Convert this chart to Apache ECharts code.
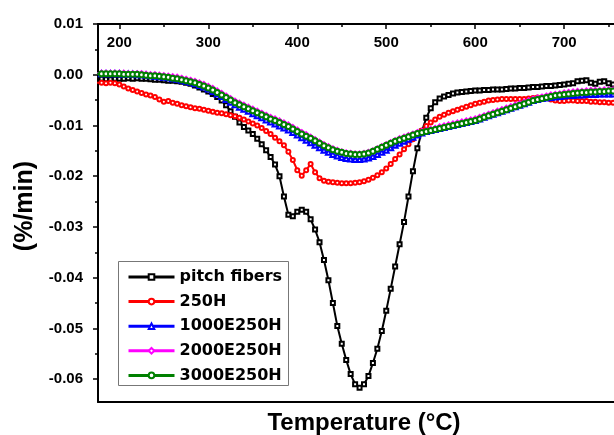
<!DOCTYPE html>
<html>
<head>
<meta charset="utf-8">
<script src="https://cdn.jsdelivr.net/npm/echarts@6/dist/echarts.min.js"></script>
<style>html,body{margin:0;padding:0;background:#fff;}#c{width:614px;height:435px;}</style>
</head>
<body>
<div id="c"></div>
<script>
var temps = [175,180,185,190,195,200,205,210,215,220,
225,230,235,240,245,250,255,260,265,270,
275,280,285,290,295,300,305,310,315,320,
325,330,335,340,345,350,355,360,365,370,
375,380,385,390,395,400,405,410,415,420,
425,430,435,440,445,450,455,460,465,470,
475,480,485,490,495,500,505,510,515,520,
525,530,535,540,545,550,555,560,565,570,
575,580,585,590,595,600,605,610,615,620,
625,630,635,640,645,650,655,660,665,670,
675,680,685,690,695,700,705,710,715,720,
725,730,735,740,745,750,755];

var pitchFibers = [-0.0008,-0.0008,-0.0009,-0.0009,-0.0008,-0.0008,-0.0008,-0.0007,-0.0008,-0.0007,
-0.0008,-0.0008,-0.0009,-0.0010,-0.0010,-0.0011,-0.0012,-0.0012,-0.0013,-0.0014,
-0.0016,-0.0018,-0.0021,-0.0025,-0.0029,-0.0033,-0.0038,-0.0044,-0.0051,-0.0060,
-0.0072,-0.0083,-0.0094,-0.0103,-0.0110,-0.0117,-0.0126,-0.0137,-0.0149,-0.0162,
-0.0177,-0.0200,-0.0240,-0.0276,-0.0279,-0.0270,-0.0266,-0.0270,-0.0285,-0.0305,
-0.0330,-0.0365,-0.0405,-0.0450,-0.0495,-0.0530,-0.0562,-0.0590,-0.0610,-0.0617,
-0.0610,-0.0594,-0.0568,-0.0540,-0.0505,-0.0465,-0.0422,-0.0378,-0.0334,-0.0290,
-0.0240,-0.0190,-0.0145,-0.0112,-0.0085,-0.0066,-0.0054,-0.0047,-0.0043,-0.0040,
-0.0037,-0.0035,-0.0034,-0.0033,-0.0032,-0.0031,-0.0031,-0.0030,-0.0030,-0.0029,
-0.0029,-0.0029,-0.0028,-0.0027,-0.0027,-0.0026,-0.0026,-0.0025,-0.0024,-0.0024,
-0.0023,-0.0022,-0.0022,-0.0021,-0.0020,-0.0019,-0.0018,-0.0017,-0.0013,-0.0012,
-0.0011,-0.0016,-0.0018,-0.0014,-0.0013,-0.0017,-0.0019];

var s250H = [-0.0016,-0.0016,-0.0017,-0.0016,-0.0017,-0.0019,-0.0023,-0.0027,-0.0030,-0.0033,
-0.0036,-0.0039,-0.0041,-0.0044,-0.0049,-0.0053,-0.0052,-0.0055,-0.0057,-0.0060,
-0.0062,-0.0064,-0.0066,-0.0067,-0.0069,-0.0071,-0.0073,-0.0075,-0.0076,-0.0078,
-0.0080,-0.0082,-0.0085,-0.0088,-0.0092,-0.0096,-0.0100,-0.0105,-0.0111,-0.0117,
-0.0124,-0.0131,-0.0139,-0.0152,-0.0168,-0.0188,-0.0199,-0.0188,-0.0176,-0.0192,
-0.0204,-0.0209,-0.0211,-0.0212,-0.0213,-0.0214,-0.0214,-0.0214,-0.0213,-0.0212,
-0.0210,-0.0207,-0.0203,-0.0198,-0.0192,-0.0185,-0.0176,-0.0166,-0.0157,-0.0147,
-0.0137,-0.0127,-0.0118,-0.0110,-0.0101,-0.0094,-0.0088,-0.0083,-0.0079,-0.0075,
-0.0072,-0.0069,-0.0066,-0.0063,-0.0060,-0.0057,-0.0055,-0.0053,-0.0051,-0.0050,
-0.0049,-0.0048,-0.0048,-0.0048,-0.0048,-0.0048,-0.0048,-0.0047,-0.0046,-0.0045,
-0.0045,-0.0046,-0.0049,-0.0051,-0.0052,-0.0052,-0.0051,-0.0051,-0.0052,-0.0052,
-0.0052,-0.0053,-0.0053,-0.0054,-0.0054,-0.0055,-0.0055];

var s1000E250H = [0.0002,0.0002,0.0002,0.0002,0.0002,0.0002,0.0001,0.0001,0.0001,0.0000,
0.0000,-0.0001,-0.0002,-0.0003,-0.0004,-0.0005,-0.0006,-0.0008,-0.0009,-0.0011,
-0.0013,-0.0015,-0.0018,-0.0021,-0.0024,-0.0028,-0.0033,-0.0038,-0.0043,-0.0049,
-0.0054,-0.0059,-0.0064,-0.0068,-0.0072,-0.0077,-0.0081,-0.0085,-0.0089,-0.0093,
-0.0097,-0.0101,-0.0105,-0.0109,-0.0114,-0.0119,-0.0124,-0.0129,-0.0134,-0.0139,
-0.0144,-0.0149,-0.0153,-0.0157,-0.0160,-0.0163,-0.0165,-0.0166,-0.0167,-0.0167,
-0.0166,-0.0164,-0.0161,-0.0157,-0.0153,-0.0149,-0.0144,-0.0139,-0.0135,-0.0131,
-0.0127,-0.0123,-0.0119,-0.0115,-0.0112,-0.0110,-0.0108,-0.0106,-0.0104,-0.0102,
-0.0100,-0.0098,-0.0096,-0.0094,-0.0092,-0.0090,-0.0087,-0.0084,-0.0081,-0.0078,
-0.0075,-0.0072,-0.0069,-0.0066,-0.0063,-0.0060,-0.0057,-0.0054,-0.0051,-0.0049,
-0.0047,-0.0046,-0.0045,-0.0044,-0.0043,-0.0042,-0.0041,-0.0041,-0.0040,-0.0040,
-0.0039,-0.0039,-0.0039,-0.0038,-0.0038,-0.0038,-0.0038];

var s2000E250H = [0.0003,0.0003,0.0003,0.0003,0.0003,0.0003,0.0003,0.0002,0.0002,0.0002,
0.0002,0.0001,0.0000,0.0000,-0.0001,-0.0002,-0.0003,-0.0004,-0.0005,-0.0007,
-0.0009,-0.0011,-0.0013,-0.0016,-0.0019,-0.0023,-0.0027,-0.0032,-0.0037,-0.0042,
-0.0047,-0.0052,-0.0056,-0.0060,-0.0064,-0.0068,-0.0072,-0.0076,-0.0080,-0.0084,
-0.0087,-0.0091,-0.0095,-0.0099,-0.0104,-0.0109,-0.0114,-0.0118,-0.0123,-0.0128,
-0.0133,-0.0138,-0.0142,-0.0146,-0.0149,-0.0152,-0.0154,-0.0155,-0.0156,-0.0156,
-0.0155,-0.0153,-0.0150,-0.0146,-0.0142,-0.0138,-0.0134,-0.0130,-0.0126,-0.0123,
-0.0120,-0.0117,-0.0114,-0.0112,-0.0110,-0.0108,-0.0106,-0.0103,-0.0101,-0.0099,
-0.0097,-0.0095,-0.0093,-0.0091,-0.0089,-0.0087,-0.0084,-0.0081,-0.0078,-0.0075,
-0.0072,-0.0069,-0.0066,-0.0063,-0.0060,-0.0057,-0.0054,-0.0051,-0.0048,-0.0046,
-0.0044,-0.0042,-0.0040,-0.0039,-0.0038,-0.0036,-0.0035,-0.0034,-0.0033,-0.0033,
-0.0032,-0.0031,-0.0031,-0.0031,-0.0030,-0.0030,-0.0030];

var s3000E250H = [0.0002,0.0002,0.0002,0.0002,0.0002,0.0002,0.0001,0.0001,0.0001,0.0001,
0.0000,-0.0001,-0.0002,-0.0002,-0.0003,-0.0004,-0.0005,-0.0007,-0.0008,-0.0010,
-0.0012,-0.0014,-0.0016,-0.0019,-0.0022,-0.0026,-0.0030,-0.0035,-0.0040,-0.0045,
-0.0050,-0.0055,-0.0059,-0.0063,-0.0067,-0.0071,-0.0075,-0.0079,-0.0083,-0.0087,
-0.0090,-0.0094,-0.0098,-0.0102,-0.0107,-0.0112,-0.0117,-0.0121,-0.0125,-0.0130,
-0.0135,-0.0140,-0.0144,-0.0148,-0.0151,-0.0153,-0.0155,-0.0156,-0.0157,-0.0157,
-0.0156,-0.0154,-0.0151,-0.0147,-0.0143,-0.0139,-0.0135,-0.0131,-0.0128,-0.0125,
-0.0122,-0.0119,-0.0116,-0.0114,-0.0112,-0.0110,-0.0108,-0.0106,-0.0104,-0.0102,
-0.0100,-0.0098,-0.0096,-0.0094,-0.0092,-0.0090,-0.0087,-0.0084,-0.0081,-0.0078,
-0.0075,-0.0072,-0.0069,-0.0066,-0.0063,-0.0060,-0.0057,-0.0054,-0.0051,-0.0049,
-0.0047,-0.0045,-0.0043,-0.0041,-0.0040,-0.0039,-0.0038,-0.0037,-0.0036,-0.0035,
-0.0035,-0.0034,-0.0034,-0.0033,-0.0033,-0.0032,-0.0032];

var seriesNames = ['pitch fibers','250H','1000E250H','2000E250H','3000E250H'];
var seriesColors = ['#000000','#ff0000','#0000ff','#ff00ff','#008000'];
var seriesSymbols = ['emptyRect','emptyCircle','emptyTriangle','emptyDiamond','emptyCircle'];
var xTicks = [200,300,400,500,600,700];
var xMinorTicks = [250,350,450,550,650,750];
var yTicks = [0.01,0,-0.01,-0.02,-0.03,-0.04,-0.05,-0.06];
var yMinorTicks = [0.005,-0.005,-0.015,-0.025,-0.035,-0.045,-0.055];
var xTitle = 'Temperature (°C)';
var yTitle = '(%/min)';

var allValues = [pitchFibers, s250H, s1000E250H, s2000E250H, s3000E250H];
function pairs(vals){ return temps.map(function(t,i){ return [t, vals[i]]; }); }

var XMIN = 176, XMAX = 756, YMIN = -0.0645, YMAX = 0.01;
var tickFont = {fontFamily:'Liberation Sans, Arial', fontWeight:'bold', fontSize:15, color:'#000'};
var symSizes = [4, 4, 5, 5, 5];

var series = allValues.map(function(v, i){
  return {
    name: seriesNames[i], type:'line', data: pairs(v), xAxisIndex:0, yAxisIndex:0,
    symbol: seriesSymbols[i], symbolSize: symSizes[i], showSymbol:true,
    lineStyle:{color:seriesColors[i], width:2},
    itemStyle:{color:seriesColors[i], borderColor:seriesColors[i], borderWidth:1},
    animation:false, z: 2 + i
  };
});

var chart = echarts.init(document.getElementById('c'), null, {renderer:'canvas'});
chart.setOption({
  animation:false,
  backgroundColor:'#fff',
  grid:{left:98, right:0, top:24, bottom:33, containLabel:false},
  xAxis:[
    {type:'value', position:'top', min:XMIN, max:XMAX,
     axisLine:{show:true, onZero:false, lineStyle:{color:'#000', width:2}},
     axisTick:{show:true, inside:true, length:5, customValues:xTicks, lineStyle:{color:'#000', width:1.5}},
     axisLabel:Object.assign({show:true, inside:true, margin:11, customValues:xTicks}, tickFont),
     splitLine:{show:false}},
    {type:'value', position:'top', min:XMIN, max:XMAX,
     axisLine:{show:false, onZero:false},
     axisTick:{show:true, inside:true, length:3, customValues:xMinorTicks, lineStyle:{color:'#000', width:1.5}},
     axisLabel:{show:false}, splitLine:{show:false}},
    {type:'value', position:'bottom', min:XMIN, max:XMAX,
     axisLine:{show:true, onZero:false, lineStyle:{color:'#000', width:2}},
     axisTick:{show:false}, axisLabel:{show:false}, splitLine:{show:false}}
  ],
  yAxis:[
    {type:'value', position:'left', min:YMIN, max:YMAX,
     axisLine:{show:true, onZero:false, lineStyle:{color:'#000', width:2}},
     axisTick:{show:true, inside:false, length:5, customValues:yTicks, lineStyle:{color:'#000', width:1.5}},
     axisLabel:Object.assign({show:true, margin:15, customValues:yTicks,
       formatter:function(v){ return (Math.abs(v)<1e-9 ? 0 : v).toFixed(2); }}, tickFont),
     splitLine:{show:false}},
    {type:'value', position:'left', min:YMIN, max:YMAX,
     axisLine:{show:false, onZero:false},
     axisTick:{show:true, inside:false, length:3, customValues:yMinorTicks, lineStyle:{color:'#000', width:1.5}},
     axisLabel:{show:false}, splitLine:{show:false}}
  ],
  legend:{
    show:true, orient:'vertical', left:127, top:269, itemWidth:46, itemHeight:7, itemGap:8.6,
    padding:0, data:seriesNames, z:10,
    lineStyle:{width:3},
    textStyle:{fontFamily:'DejaVu Sans', fontWeight:'bold', fontSize:16, color:'#000'}
  },
  graphic:[
    {type:'rect', z:5, shape:{x:118.5, y:261.5, width:170, height:124},
     style:{fill:'#fff', stroke:'#777', lineWidth:1}},
    {type:'text', z:5, x:364, y:423,
     style:{text:xTitle, fontFamily:'Liberation Sans, Arial', fontWeight:'bold', fontSize:24,
            fill:'#000', align:'center', verticalAlign:'middle'}},
    {type:'text', z:5, x:25, y:206, rotation:Math.PI/2,
     style:{text:yTitle, fontFamily:'Liberation Sans, Arial', fontWeight:'bold', fontSize:25,
            fill:'#000', align:'center', verticalAlign:'middle'}}
  ],
  series: series
});
</script>
</body>
</html>
